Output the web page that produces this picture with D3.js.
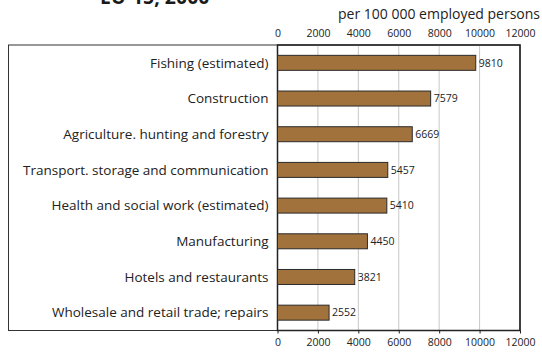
<!DOCTYPE html>
<html><head><meta charset="utf-8">
<script src="https://cdn.jsdelivr.net/npm/d3@7"></script>
<style>body{margin:0;background:#fff}svg{display:block}</style>
</head><body>
<script>
const categories = ["Fishing (estimated)","Construction","Agriculture. hunting and forestry","Transport. storage and communication","Health and social work (estimated)","Manufacturing","Hotels and restaurants","Wholesale and retail trade; repairs"];
const values = [9810,7579,6669,5457,5410,4450,3821,2552];
const tickValues = [0,2000,4000,6000,8000,10000,12000];
const unitLabel = "per 100 000 employed persons";
const titleText = "EU-15, 2000";

(function(){
const W=542,H=353;
const svg=d3.select("body").append("svg").attr("width",W).attr("height",H);
const font="'Open Sans', sans-serif";
const narrow="'Liberation Sans Narrow','Open Sans',sans-serif";
const pL=277.5,pR=520,pT=45,pB=330.5;
const x=d3.scaleLinear().domain([0,12000]).range([pL,pR]);
const y=d3.scaleBand().domain(categories).range([pT,pB]).paddingInner(0.58).paddingOuter(0.29);

svg.append("text").attr("x",100).attr("y",4).attr("font-family",font).attr("font-weight","bold").attr("font-size",19.5).attr("fill","#1a1a1a").text(titleText);
svg.append("text").attr("x",540).attr("y",19).attr("text-anchor","end").attr("font-family",font).attr("font-size",14).attr("fill","#222").text(unitLabel);

svg.append("rect").attr("x",8.5).attr("y",pT).attr("width",pR-8.5).attr("height",pB-pT).attr("fill","none").attr("stroke","#333").attr("stroke-width",1);
svg.append("g").selectAll("line").data(tickValues.slice(1,-1)).join("line")
 .attr("x1",d=>x(d)).attr("x2",d=>x(d)).attr("y1",pT).attr("y2",pB).attr("stroke","#c8c8c8").attr("stroke-width",1);
svg.append("rect").attr("x",pL).attr("y",pT).attr("width",pR-pL).attr("height",pB-pT).attr("fill","none").attr("stroke","#222").attr("stroke-width",1.5);

const axTop=d3.axisTop(x).tickValues(tickValues).tickSize(0).tickPadding(8).tickFormat(d3.format("d"));
const gt=svg.append("g").attr("transform",`translate(0,${pT})`).call(axTop);
const axB=d3.axisBottom(x).tickValues(tickValues).tickSize(3).tickPadding(5).tickFormat(d3.format("d"));
const gb=svg.append("g").attr("transform",`translate(0,${pB})`).call(axB);
[gt,gb].forEach(g=>{g.select(".domain").remove();g.selectAll("text").attr("font-family",narrow).attr("font-size",10.5).attr("fill","#222");g.selectAll("line").attr("stroke","#222");});

svg.append("g").selectAll("rect").data(values).join("rect")
 .attr("x",x(0)).attr("y",(d,i)=>y(categories[i])).attr("width",d=>x(d)-x(0)).attr("height",y.bandwidth())
 .attr("fill","#A2723D").attr("stroke","#2a2a2a").attr("stroke-width",1);
svg.append("g").selectAll("text").data(values).join("text")
 .attr("x",d=>x(d)+3).attr("y",(d,i)=>y(categories[i])+y.bandwidth()/2).attr("dy","0.35em")
 .attr("font-family",narrow).attr("font-size",10.5).attr("fill","#222").text(d=>d);
svg.append("g").selectAll("text").data(categories).join("text")
 .attr("x",268.5).attr("y",d=>y(d)+y.bandwidth()/2).attr("dy","0.35em").attr("text-anchor","end")
 .attr("font-family",font).attr("font-size",13.5).attr("fill","#222").text(d=>d);
})();
</script>
</body></html>
